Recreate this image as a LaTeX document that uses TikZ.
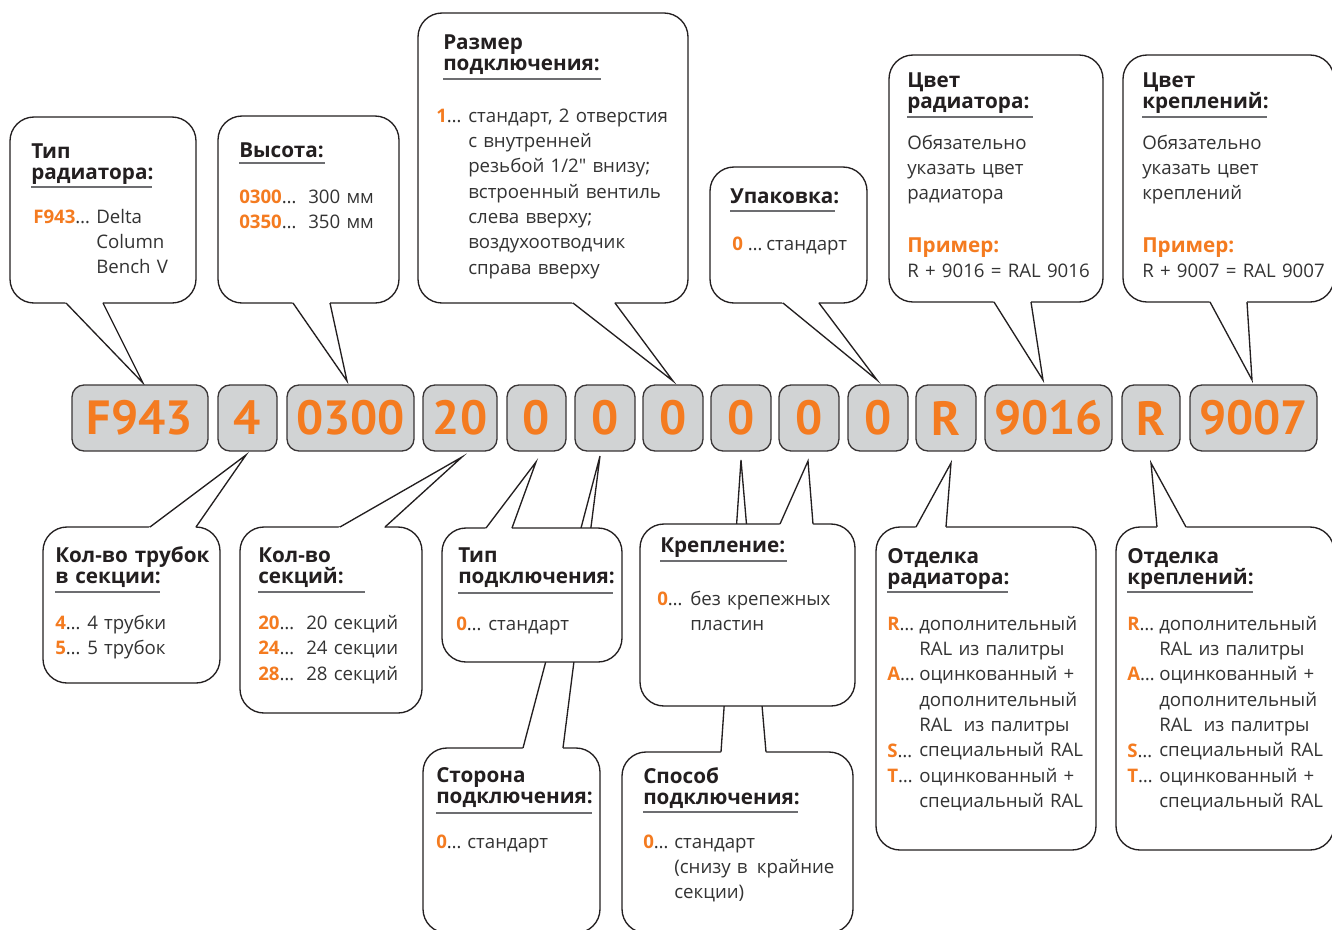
\documentclass[tikz,border=0pt]{standalone}
\usepackage{fontspec}
\setmainfont{Open Sans}
\newfontfamily\codefont{PT Sans}
\usetikzlibrary{calc}
\definecolor{org}{HTML}{F47B20}
\definecolor{txt}{HTML}{333333}
\definecolor{hdc}{HTML}{231F20}
\definecolor{boxfill}{HTML}{D1D3D4}
\definecolor{ulc}{HTML}{6D6E71}
\newcounter{tn}
\newcommand\tx[4]{\stepcounter{tn}\node[#1] (t\arabic{tn}) at (#2,#3) {#4};}
\newcommand\ul[3]{\draw[uline] (#1,#3) -- (#2,#3);}
\newcommand\K[1]{\textcolor{org}{\bfseries #1}…}
\newcommand\dq{\XeTeXglyph\XeTeXcharglyph34\relax}
\newcommand\bub[5]{\node[bubble, minimum width={(#4-#2)*0.75pt}, minimum height={(#5-#3)*0.75pt}] (#1) at ({(#2+#4)/2},{(#3+#5)/2}) {};}
\newcommand\ptr[6]{%
  \coordinate (#1a) at (#2,#3); \coordinate (#1b) at (#4,#5);
  \fill[white] ($(#1a)!-3pt!(#6)$) -- (#6) -- ($(#1b)!-3pt!(#6)$) -- cycle;
  \draw[ptrline] (#1a) -- (#6) -- (#1b);}
\newcommand\cb[4]{\node[codebox, minimum width={(#3-#2)*0.75pt}] (#1) at ({(#2+#3)/2},418) {#4};}
\begin{document}
\begin{tikzpicture}[x=0.75pt,y=-0.75pt,
  bubble/.style={draw=hdc, line width=1pt, fill=white, rounded corners=18pt, inner sep=0},
  ptrline/.style={draw=hdc, line width=1pt},
  codebox/.style={draw=hdc!90, line width=1pt, fill=boxfill, rounded corners=9pt, inner sep=0,
     minimum height=49.5pt, text=org, font=\codefont\bfseries\fontsize{36}{36}\selectfont},
  uline/.style={draw=ulc, line width=1.1pt},
  hd/.style={anchor=base west, inner sep=0, text width=240pt, align=left, text=hdc,
     font=\bfseries\fontsize{15.5}{15.75}\selectfont},
  ho/.style={hd, text=org},
  bd/.style={anchor=base west, inner sep=0, text width=240pt, align=left, text=txt,
     font=\fontsize{14}{19}\selectfont},
  ky/.style={anchor=base west, inner sep=0, text=txt, font=\fontsize{14}{19}\selectfont}]
\useasboundingbox (0,0) rectangle (1332,929);
% tips
\coordinate (q1) at (143,383);
\coordinate (q2) at (347,381);
\coordinate (q3) at (673,381);
\coordinate (q4) at (877,380);
\coordinate (q5) at (1043,380);
\coordinate (q6) at (1252,380);
\coordinate (q7) at (246,455);
\coordinate (q8) at (462,457);
\coordinate (q9) at (536,462);
\coordinate (q10) at (600,456);
\coordinate (q11) at (808,461);
\coordinate (q12) at (741,460);
\coordinate (q13) at (951,463);
\coordinate (q14) at (1151,463);
% back bubbles
\bub{b10}{423}{748}{600}{933}
\ptr{p10}{523}{748}{563}{748}{q10}
\bub{b12}{622}{752}{853}{933}
\ptr{p12}{721}{752}{766}{752}{q12}
% top bubbles
\bub{b1}{10}{117}{196}{303}
\ptr{p1}{66}{303}{103}{303}{q1}
\bub{b2}{218}{116}{399}{303}
\ptr{p2}{293}{303}{330}{303}{q2}
\bub{b3}{418}{13}{688}{303}
\ptr{p3}{573}{303}{615}{303}{q3}
\bub{b4}{710}{167}{867}{303}
\ptr{p4}{783}{303}{819}{303}{q4}
\bub{b5}{889}{55}{1103}{302}
\ptr{p5}{994}{302}{1031}{302}{q5}
\bub{b6}{1123}{55}{1334}{302}
\ptr{p6}{1210}{302}{1247}{302}{q6}
% bottom bubbles
\bub{b7}{43}{527}{220}{683}
\ptr{p7}{150}{527}{196}{527}{q7}
\bub{b8}{240}{527}{422}{713}
\ptr{p8}{340}{527}{385}{527}{q8}
\bub{b9}{442}{528}{622}{662}
\ptr{p9}{486}{528}{512}{528}{q9}
\bub{b11}{640}{524}{855}{706}
\ptr{p11}{780}{524}{813}{524}{q11}
\bub{b13}{876}{527}{1096}{850}
\ptr{p13}{916}{527}{946}{527}{q13}
\bub{b14}{1116}{527}{1334}{850}
\ptr{p14}{1157}{527}{1186}{527}{q14}
% code boxes
\cb{c1}{72}{208}{F943}
\cb{c2}{218}{277}{4}
\cb{c3}{287}{414}{0300}
\cb{c4}{423}{497}{20}
\cb{c5}{507}{566}{0}
\cb{c6}{575}{635}{0}
\cb{c7}{643}{703}{0}
\cb{c8}{711}{771}{0}
\cb{c9}{779}{839}{0}
\cb{c10}{848}{908}{0}
\cb{c11}{916}{976}{R}
\cb{c12}{985}{1112}{9016}
\cb{c13}{1122}{1180}{R}
\cb{c14}{1190}{1317}{9007}
% texts b1
\tx{hd}{31}{158}{Тип\\радиатора:}
\ul{31}{152}{187}
\tx{ky}{33}{223}{\K{F943}}
\tx{bd}{96}{223}{Delta\\Column\\Bench V}
% b2
\tx{hd}{239}{157}{Высота:}
\ul{239}{325}{163}
\tx{ky}{239}{203}{\K{0300}}
\tx{bd}{308}{203}{300 мм}
\tx{ky}{239}{228}{\K{0350}}
\tx{bd}{308}{228}{350 мм}
% b3
\tx{hd}{443}{49}{Размер\\подключения:}
\ul{443}{601}{79}
\tx{ky}{436}{122}{\K{1}}
\tx{bd}{468}{122}{стандарт, 2 отверстия\\с внутренней\\резьбой 1/2\dq{} внизу;\\встроенный вентиль\\слева вверху;\\воздухоотводчик\\справа вверху}
% b4
\tx{hd}{730}{203}{Упаковка:}
\ul{730}{835}{211}
\tx{ky}{732}{250}{\textcolor{org}{\bfseries 0} …}
\tx{bd}{766}{250}{стандарт}
% b5
\tx{hd}{907}{87}{Цвет\\радиатора:}
\ul{907}{1033}{117}
\tx{bd}{907}{149}{Обязательно\\указать цвет\\радиатора}
\tx{ho}{907}{252}{Пример:}
\tx{bd}{907}{277}{R + 9016 = RAL 9016}
% b6
\tx{hd}{1142}{87}{Цвет\\креплений:}
\ul{1142}{1267}{117}
\tx{bd}{1142}{149}{Обязательно\\указать цвет\\креплений}
\tx{ho}{1142}{252}{Пример:}
\tx{bd}{1142}{277}{R + 9007 = RAL 9007}
% b7
\tx{hd}{55}{562}{Кол-во трубок\\в секции:}
\ul{55}{160}{592}
\tx{ky}{55}{629}{\K{4}}
\tx{bd}{87}{629}{4 трубки}
\tx{ky}{55}{654}{\K{5}}
\tx{bd}{87}{654}{5 трубок}
% b8
\tx{hd}{258}{562}{Кол-во\\секций:}
\ul{258}{365}{592}
\tx{ky}{258}{629}{\K{20}}
\tx{bd}{306}{629}{20 секций}
\tx{ky}{258}{654}{\K{24}}
\tx{bd}{306}{654}{24 секции}
\tx{ky}{258}{680}{\K{28}}
\tx{bd}{306}{680}{28 секций}
% b9
\tx{hd}{458}{562}{Тип\\подключения:}
\ul{458}{613}{593}
\tx{ky}{456}{630}{\K{0}}
\tx{bd}{488}{630}{стандарт}
% b10
\tx{hd}{436}{782}{Сторона\\подключения:}
\ul{436}{592}{813}
\tx{ky}{436}{848}{\K{0}}
\tx{bd}{467}{848}{стандарт}
% b11
\tx{hd}{660}{552}{Крепление:}
\ul{660}{787}{561}
\tx{ky}{657}{605}{\K{0}}
\tx{bd}{690}{605}{без крепежных\\пластин}
% b12
\tx{hd}{643}{783}{Способ\\подключения:}
\ul{643}{798}{812}
\tx{ky}{643}{848}{\K{0}}
\tx{bd}{674}{848}{стандарт\\(снизу в\hspace{0.5em}крайние\\секции)}
% b13
\tx{hd}{887}{563}{Отделка\\радиатора:}
\ul{887}{1008}{592}
\tx{ky}{887}{630}{\K{R}}
\tx{ky}{887}{680}{\K{A}}
\tx{ky}{887}{757}{\K{S}}
\tx{ky}{887}{782}{\K{T}}
\tx{bd}{919}{630}{дополнительный\\RAL из палитры\\оцинкованный +\\дополнительный\\RAL\hspace{0.6em}из палитры\\специальный RAL\\оцинкованный +\\специальный RAL}
% b14
\tx{hd}{1127}{563}{Отделка\\креплений:}
\ul{1127}{1253}{592}
\tx{ky}{1127}{630}{\K{R}}
\tx{ky}{1127}{680}{\K{A}}
\tx{ky}{1127}{757}{\K{S}}
\tx{ky}{1127}{782}{\K{T}}
\tx{bd}{1159}{630}{дополнительный\\RAL из палитры\\оцинкованный +\\дополнительный\\RAL\hspace{0.6em}из палитры\\специальный RAL\\оцинкованный +\\специальный RAL}
\end{tikzpicture}
\end{document}
